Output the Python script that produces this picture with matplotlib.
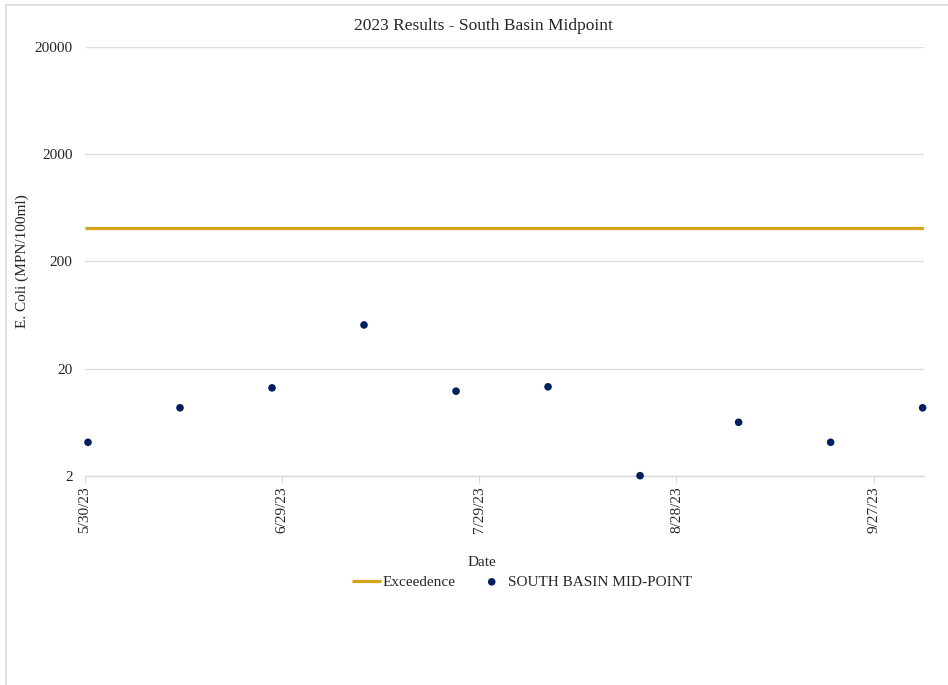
import matplotlib.pyplot as plt
import matplotlib.dates as mdates
from matplotlib.patches import Rectangle
from matplotlib.ticker import FixedLocator, FuncFormatter, NullLocator
from datetime import datetime, timedelta

plt.rcParams['font.family'] = ['Liberation Serif', 'DejaVu Serif']

# sampling dates (morning collection) and E. coli counts
sample_dates = ['2023-05-30', '2023-06-13', '2023-06-27', '2023-07-11', '2023-07-25',
                '2023-08-08', '2023-08-22', '2023-09-06', '2023-09-20', '2023-10-04']
ecoli = [4.1, 8.6, 13.2, 51, 12.3, 13.5, 2, 6.3, 4.1, 8.6]
exceedence = 410
y_ticks = [2, 20, 200, 2000, 20000]

dates = [datetime.strptime(d, '%Y-%m-%d') + timedelta(hours=11) for d in sample_dates]
start = datetime(2023, 5, 30)
end = dates[-1] + timedelta(hours=5)

fig = plt.figure(figsize=(9.48, 6.85), dpi=100)
ax = fig.add_axes([85 / 948, 1 - 475.7 / 685, 839 / 948, 428.7 / 685])

ax.plot([start, end], [exceedence, exceedence], color='#D4A11A', lw=2.3,
        label='Exceedence', solid_capstyle='butt', zorder=3)
ax.scatter(dates, ecoli, s=30, color='#002060', label='SOUTH BASIN MID-POINT',
           zorder=4, edgecolors='none', clip_on=False)

ax.set_yscale('log')
ax.set_ylim(2, 20000)
ax.yaxis.set_major_locator(FixedLocator(y_ticks))
ax.yaxis.set_minor_locator(NullLocator())
ax.yaxis.set_major_formatter(FuncFormatter(lambda v, p: f'{v:g}'))
ax.grid(axis='y', color='#dedede', lw=1.0)
ax.tick_params(axis='y', length=0, pad=9, labelsize=11, colors='#262626')

ax.set_xlim(start, end)
xticks = [start + timedelta(days=30 * i) for i in range(5)]
ax.xaxis.set_major_locator(FixedLocator(mdates.date2num(xticks)))
ax.xaxis.set_major_formatter(FuncFormatter(
    lambda v, p: (lambda d: f'{d.month}/{d.day}/{d:%y}')(mdates.num2date(v))))
ax.tick_params(axis='x', length=5, color='#d9d9d9', rotation=90, labelsize=11,
               pad=3)
for lbl in ax.get_xticklabels():
    lbl.set_color('#262626')

for s in ['top', 'right', 'left']:
    ax.spines[s].set_visible(False)
ax.spines['bottom'].set_color('#d9d9d9')
ax.spines['bottom'].set_linewidth(1.0)

fig.text(483 / 948, 1 - 26 / 685, '2023 Results - South Basin Midpoint',
         ha='center', va='center', fontsize=12.5, color='#262626')
fig.text(22 / 948, 1 - 261 / 685, 'E. Coli (MPN/100ml)', rotation=90,
         ha='center', va='center', fontsize=11, color='#262626')
fig.text(482 / 948, 1 - 562 / 685, 'Date', ha='center', va='center',
         fontsize=11, color='#262626')

fig.legend(loc='center', bbox_to_anchor=(522 / 948, 1 - 582 / 685), ncol=2,
           frameon=False, fontsize=11, handlelength=1.9, handletextpad=0.1,
           columnspacing=1.4, labelcolor='#262626')

# outer chart border
fig.add_artist(Rectangle((6 / 948, -0.1), 1.2, 1 - 5 / 685 + 0.1,
                         transform=fig.transFigure, fill=False,
                         edgecolor='#d9d9d9', lw=1.2))

fig.savefig('out.png', dpi=100, facecolor='white')
